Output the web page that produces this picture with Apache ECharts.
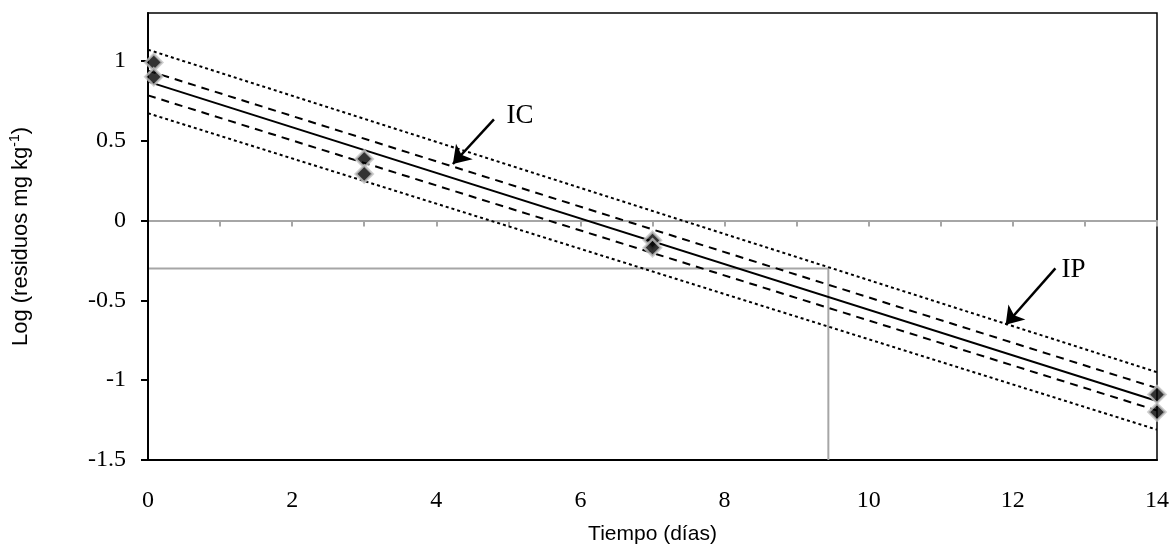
<!DOCTYPE html>
<html>
<head>
<meta charset="utf-8">
<script src="https://cdn.jsdelivr.net/npm/echarts@6/dist/echarts.min.js"></script>
<style>
  html, body { margin: 0; padding: 0; background: #fff; }
  #chart { width: 1175px; height: 550px; }
</style>
</head>
<body>
<div id="chart"></div>
<script>
// datos
var diasObs = [0.08, 0.08, 3, 3, 7, 7, 14, 14];
var logObs = [0.99, 0.90, 0.386, 0.292, -0.124, -0.17, -1.09, -1.20];

var xRecta = [0, 14];
var ajuste = [0.87, -1.13];
var icSup = [0.939, -1.05];
var icInf = [0.784, -1.19];
var ipSup = [1.07, -0.95];
var ipInf = [0.672, -1.31];

// vida media: y = log(0.5)
var vidaX = [0, 9.44, 9.44];
var vidaY = [-0.3, -0.3, -1.5];

var yTicks = [-1.5, -1, -0.5, 0, 0.5, 1];

function pares(xs, ys) {
	return xs.map(function (x, i) { return [x, ys[i]]; });
}

var myChart = echarts.init(document.getElementById('chart'));

var serif = 'Liberation Serif';
var sans = 'Liberation Sans Narrow, Liberation Sans, Arial';

var option = {
	animation: false,
	grid: {
		left: 147,
		right: 18,
		top: 13,
		bottom: 87,
		show: true,
		borderColor: '#000',
		borderWidth: 1.5
	},
	xAxis: [{
		type: 'value',
		min: 0,
		max: 14,
		interval: 2,
		position: 'bottom',
		axisLine: { onZero: false, lineStyle: { color: '#000', width: 2 } },
		axisTick: { show: false },
		splitLine: { show: false },
		axisLabel: { color: '#000', fontFamily: serif, fontSize: 24, margin: 29 },
		name: 'Tiempo (días)',
		nameLocation: 'middle',
		nameGap: 64,
		nameTextStyle: { color: '#000', fontFamily: sans, fontSize: 21 }
	}, {
		type: 'value',
		min: 0,
		max: 14,
		interval: 1,
		position: 'bottom',
		z: 0,
		axisLine: { onZero: true, onZeroAxisIndex: 0, lineStyle: { color: '#a6a6a6', width: 2 } },
		axisTick: { show: true, length: 6, lineStyle: { color: '#a6a6a6', width: 2 } },
		axisLabel: { show: false },
		splitLine: { show: false }
	}],
	yAxis: {
		type: 'value',
		min: -1.5,
		max: 1.3,
		interval: 0.5,
		z: 3,
		axisLine: { lineStyle: { color: '#000', width: 2 } },
		axisTick: { show: true, length: 7, customValues: yTicks, lineStyle: { color: '#000', width: 2 } },
		axisLabel: { color: '#000', fontFamily: serif, fontSize: 24, margin: 22, customValues: yTicks },
		splitLine: { show: false },
		name: 'Log (residuos mg kg{sup|-1})',
		nameLocation: 'middle',
		nameGap: 114,
		nameTextStyle: {
			color: '#000', fontFamily: sans, fontSize: 22,
			rich: { sup: { fontFamily: sans, fontSize: 14, verticalAlign: 'top', padding: [0, 0, 12, 0] } }
		}
	},
	series: [{
		name: 'vida media',
		type: 'line',
		xAxisIndex: 0,
		data: pares(vidaX, vidaY),
		symbol: 'none',
		lineStyle: { color: '#a6a6a6', width: 2 },
		z: 1
	}, {
		name: 'IP sup',
		type: 'line',
		data: pares(xRecta, ipSup),
		symbol: 'none',
		lineStyle: { color: '#000', width: 2, type: [3, 3] },
		markLine: {
			silent: true,
			symbol: ['none', 'arrow'],
			symbolSize: 17,
			lineStyle: { color: '#000', width: 2.5, type: 'solid' },
			label: { show: false },
			data: [
				[{ coord: [4.80, 0.634] }, { coord: [4.23, 0.354] }],
				[{ coord: [12.59, -0.30] }, { coord: [11.90, -0.653] }]
			]
		},
		markPoint: {
			silent: true,
			symbolSize: 0,
			label: { show: true, color: '#000', fontFamily: serif, fontSize: 27, formatter: '{b}' },
			data: [
				{ name: 'IC', coord: [5.16, 0.653] },
				{ name: 'IP', coord: [12.84, -0.31] }
			]
		}
	}, {
		name: 'IP inf',
		type: 'line',
		data: pares(xRecta, ipInf),
		symbol: 'none',
		lineStyle: { color: '#000', width: 2, type: [3, 3] }
	}, {
		name: 'IC sup',
		type: 'line',
		data: pares(xRecta, icSup),
		symbol: 'none',
		lineStyle: { color: '#000', width: 2, type: [8, 6] }
	}, {
		name: 'IC inf',
		type: 'line',
		data: pares(xRecta, icInf),
		symbol: 'none',
		lineStyle: { color: '#000', width: 2, type: [8, 6] }
	}, {
		name: 'ajuste',
		type: 'line',
		data: pares(xRecta, ajuste),
		symbol: 'none',
		lineStyle: { color: '#000', width: 2 }
	}, {
		name: 'observado',
		type: 'scatter',
		data: pares(diasObs, logObs),
		symbol: 'diamond',
		symbolSize: 17,
		clip: false,
		itemStyle: { color: '#000', borderColor: '#c4c4c4', borderWidth: 2.5 },
		z: 5
	}]
};

myChart.setOption(option);
</script>
</body>
</html>
